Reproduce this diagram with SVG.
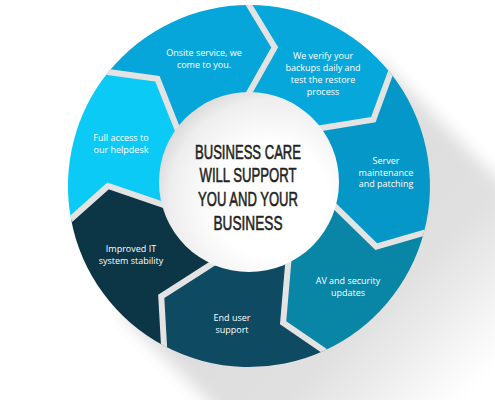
<svg xmlns="http://www.w3.org/2000/svg" width="495" height="400" viewBox="0 0 495 400">
<defs>
<style>
.lbl{font-family:"Open Sans","Liberation Sans",sans-serif;font-size:9px;fill:#ffffff;text-anchor:middle}
.ctr{font-family:"Liberation Sans",Arial,sans-serif;font-size:21px;fill:#222222;stroke:#222222;stroke-width:0.6;text-anchor:middle}
.gap{fill:none;stroke:#e3e3e3;stroke-width:6;stroke-linejoin:miter}
</style>
<linearGradient id="sh" gradientUnits="userSpaceOnUse" x1="249" y1="186" x2="462" y2="399">
<stop offset="0" stop-color="#000" stop-opacity="0.14"/>
<stop offset="0.6" stop-color="#000" stop-opacity="0.12"/>
<stop offset="1" stop-color="#000" stop-opacity="0"/>
</linearGradient>
<filter id="blur" x="-50%" y="-50%" width="200%" height="200%"><feGaussianBlur stdDeviation="8"/></filter>
<radialGradient id="wc" cx="0.62" cy="0.6" r="0.7">
<stop offset="0.45" stop-color="#ffffff"/>
<stop offset="0.8" stop-color="#eeeeee"/>
<stop offset="1" stop-color="#d2d2d2"/>
</radialGradient>
<clipPath id="ring"><circle cx="249" cy="186" r="181"/></clipPath>
</defs>
<rect width="495" height="400" fill="#ffffff"/>
<g id="shadow" filter="url(#blur)">
<polygon points="377,58 777,458 521,714 121,314" fill="url(#sh)"/>
</g>
<g id="seg-verify"><path d="M249,5 A181,181 0 0 1 390.46,73.08 L373.38,119.59 L321.68,127.98 L301,131.34 L249,186 L238.72,111.26 L249,93 L274.7,47.36 Z" fill="#06a8dc"/></g>
<g id="seg-server"><path d="M390.46,73.08 A181,181 0 0 1 423.83,232.85 L376.27,246.7 L338.83,210.07 L323.86,195.42 L249,186 L301,131.34 L321.68,127.98 L373.38,119.59 Z" fill="#0597c7"/></g>
<g id="seg-av"><path d="M423.83,232.85 A181,181 0 0 1 324.06,350.7 L283.11,322.81 L287.57,270.63 L289.35,249.76 L249,186 L323.86,195.42 L338.83,210.07 L376.27,246.7 Z" fill="#0986a6"/></g>
<g id="seg-end"><path d="M324.06,350.7 A181,181 0 0 1 164.03,345.81 L161.23,296.35 L205.34,268.11 L222.98,256.81 L249,186 L289.35,249.76 L287.57,270.63 L283.11,322.81 Z" fill="#0e4a61"/></g>
<g id="seg-improved"><path d="M164.03,345.81 A181,181 0 0 1 71.03,218.99 L108,186 L157.56,202.95 L177.38,209.73 L249,186 L222.98,256.81 L205.34,268.11 L161.23,296.35 Z" fill="#0c3546"/></g>
<g id="seg-full"><path d="M71.03,218.99 A181,181 0 0 1 108.34,72.09 L157.43,78.78 L176.73,127.47 L184.45,146.95 L249,186 L177.38,209.73 L157.56,202.95 L108,186 Z" fill="#0ccaf6"/></g>
<g id="seg-onsite"><path d="M108.34,72.09 A181,181 0 0 1 249,5 L274.7,47.36 L249,93 L238.72,111.26 L249,186 L184.45,146.95 L176.73,127.47 L157.43,78.78 Z" fill="#07a6da"/></g>
<g id="connectors" clip-path="url(#ring)">
<polyline class="gap" points="249,-3 249,5 274.7,47.36 249,93 238.72,111.26"/>
<polyline class="gap" points="396.7,68.1 390.46,73.08 373.38,119.59 321.68,127.98 301,131.34"/>
<polyline class="gap" points="431.6,234.9 423.83,232.85 376.27,246.7 338.83,210.07 323.86,195.42"/>
<polyline class="gap" points="327.4,358 324.06,350.7 283.11,322.81 287.57,270.63 289.35,249.76"/>
<polyline class="gap" points="160.3,352.9 164.03,345.81 161.23,296.35 205.34,268.11 222.98,256.81"/>
<polyline class="gap" points="63.2,220.4 71.03,218.99 108,186 157.56,202.95 177.38,209.73"/>
<polyline class="gap" points="102.1,67 108.34,72.09 157.43,78.78 176.73,127.47 184.45,146.95"/>
</g>
<g id="center">
<circle cx="249" cy="182" r="90" fill="url(#wc)"/>
<text class="ctr" x="248" y="158.5" textLength="106" lengthAdjust="spacingAndGlyphs">BUSINESS CARE</text>
<text class="ctr" x="248" y="182" textLength="97" lengthAdjust="spacingAndGlyphs">WILL SUPPORT</text>
<text class="ctr" x="248" y="206" textLength="100" lengthAdjust="spacingAndGlyphs">YOU AND YOUR</text>
<text class="ctr" x="248" y="229.5" textLength="69" lengthAdjust="spacingAndGlyphs">BUSINESS</text>
</g>
<g id="labels">
<text class="lbl" x="204" y="55.5">Onsite service, we</text>
<text class="lbl" x="204" y="67.5">come to you.</text>
<text class="lbl" x="323" y="59">We verify your</text>
<text class="lbl" x="323" y="71">backups daily and</text>
<text class="lbl" x="323" y="82.5">test the restore</text>
<text class="lbl" x="323" y="94.5">process</text>
<text class="lbl" x="121" y="141">Full access to</text>
<text class="lbl" x="121" y="153">our helpdesk</text>
<text class="lbl" x="386" y="163.5">Server</text>
<text class="lbl" x="386" y="175.5">maintenance</text>
<text class="lbl" x="386" y="187">and patching</text>
<text class="lbl" x="348" y="284">AV and security</text>
<text class="lbl" x="348" y="296">updates</text>
<text class="lbl" x="232" y="320.5">End user</text>
<text class="lbl" x="232" y="332.5">support</text>
<text class="lbl" x="131" y="252">Improved IT</text>
<text class="lbl" x="131" y="264">system stability</text>
</g>
</svg>
